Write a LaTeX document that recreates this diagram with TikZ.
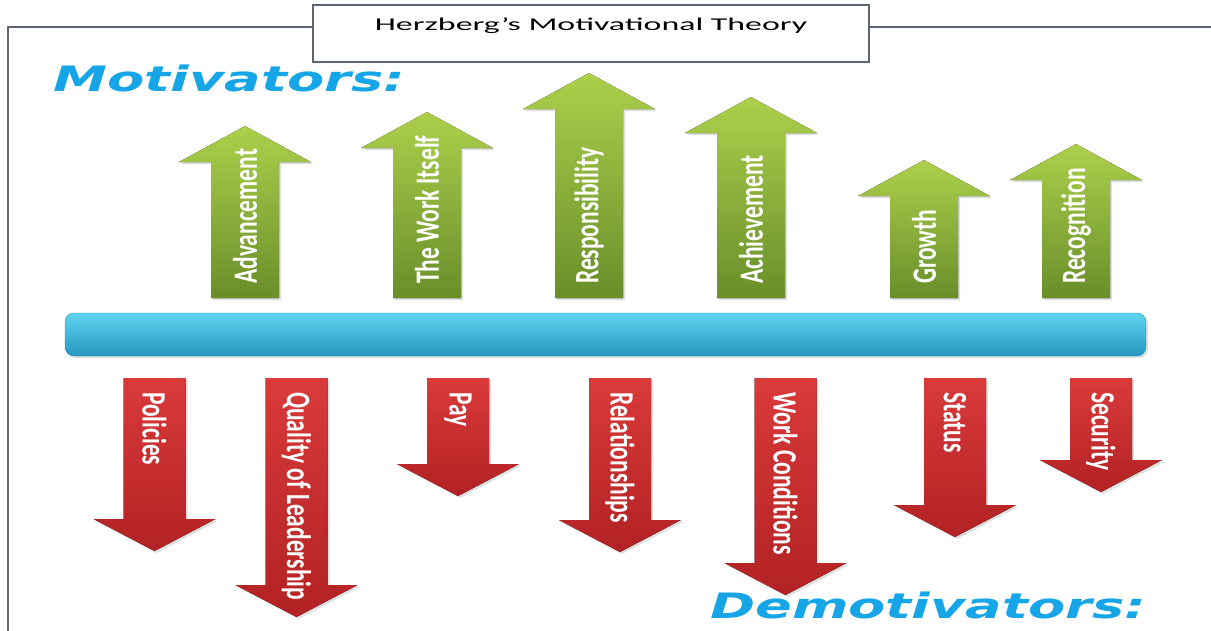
\documentclass[tikz,border=0pt]{standalone}
\usepackage{fontspec}
\setmainfont{Carlito}
\newfontfamily\headfont{DejaVu Sans}
\usetikzlibrary{shadows}

\definecolor{framegray}{RGB}{95,102,115}
\definecolor{skyblue}{RGB}{22,165,230}
\definecolor{grnlight}{RGB}{172,208,75}
\definecolor{grndark}{RGB}{105,142,42}
\definecolor{redlight}{RGB}{218,58,58}
\definecolor{reddark}{RGB}{178,34,36}
\definecolor{barlight}{RGB}{95,212,240}
\definecolor{bardark}{RGB}{38,150,190}

\tikzset{
  frameline/.style={draw=framegray,line width=1.6pt},
  softshadow/.style={drop shadow={opacity=.25,shadow xshift=2pt,shadow yshift=-2pt}},
  greenarrow/.style={top color=grnlight,bottom color=grndark,softshadow},
  redarrow/.style={top color=redlight,bottom color=reddark,softshadow},
  uplabel/.style={rotate=90,yscale=1.45,anchor=west,inner sep=0pt,text=white,
    font=\bfseries\fontsize{23.5}{28}\selectfont},
  downlabel/.style={uplabel,rotate=-180},
  headline/.style={anchor=base west,inner sep=0pt,xscale=1.55,text=skyblue,
    font=\headfont\bfseries\itshape\fontsize{35}{40}\selectfont},
}

% name, centre x, tip y, text
\newcommand{\motivator}[4]{%
  \fill[greenarrow] (#2-34,298) -- (#2-34,#3+36) -- (#2-66,#3+36) -- (#2,#3)
    -- (#2+66,#3+36) -- (#2+34,#3+36) -- (#2+34,298) -- cycle;
  \node[uplabel] (#1) at (#2,284) {#4};}
\newcommand{\demotivator}[4]{%
  \fill[redarrow] (#2-31,378) -- (#2-31,#3-32) -- (#2-61,#3-32) -- (#2,#3)
    -- (#2+61,#3-32) -- (#2+31,#3-32) -- (#2+31,378) -- cycle;
  \node[downlabel] (#1) at (#2,392) {#4};}

\begin{document}
\begin{tikzpicture}[x=1pt,y=-1pt]
\useasboundingbox (0,0) rectangle (1211,630);
\draw[frameline] (8,640) -- (8,27) -- (1220,27);
\node[frameline,fill=white,minimum width=556pt,minimum height=57pt] (titlebox) at (591,33.5) {};
\node[anchor=base,xscale=1.88,font=\fontsize{18}{22}\selectfont] (title) at (591,30) {Herzberg's Motivational Theory};
\node[headline] (motiv) at (53,91) {Motivators:};
\node[headline] (demotiv) at (710,618) {Demotivators:};
\node[rounded corners=9pt,minimum width=1081pt,minimum height=43pt,top color=barlight,
  bottom color=bardark,draw=bardark,softshadow] (bar) at (605.5,334.5) {};
\motivator{advance}{245}{126}{Advancement}
\motivator{work}{427}{112}{The Work Itself}
\motivator{respons}{589}{73}{Responsibility}
\motivator{achieve}{751}{97}{Achievement}
\motivator{growth}{924}{160}{Growth}
\motivator{recog}{1076}{144}{Recognition}
\demotivator{policies}{154.5}{551}{Policies}
\demotivator{leader}{296.5}{617}{Quality of Leadership}
\demotivator{pay}{458}{496}{Pay}
\demotivator{relation}{620}{552}{Relationships}
\demotivator{conditions}{785.5}{595}{Work Conditions}
\demotivator{status}{955}{537}{Status}
\demotivator{security}{1101}{492}{Security}
\end{tikzpicture}
\end{document}
